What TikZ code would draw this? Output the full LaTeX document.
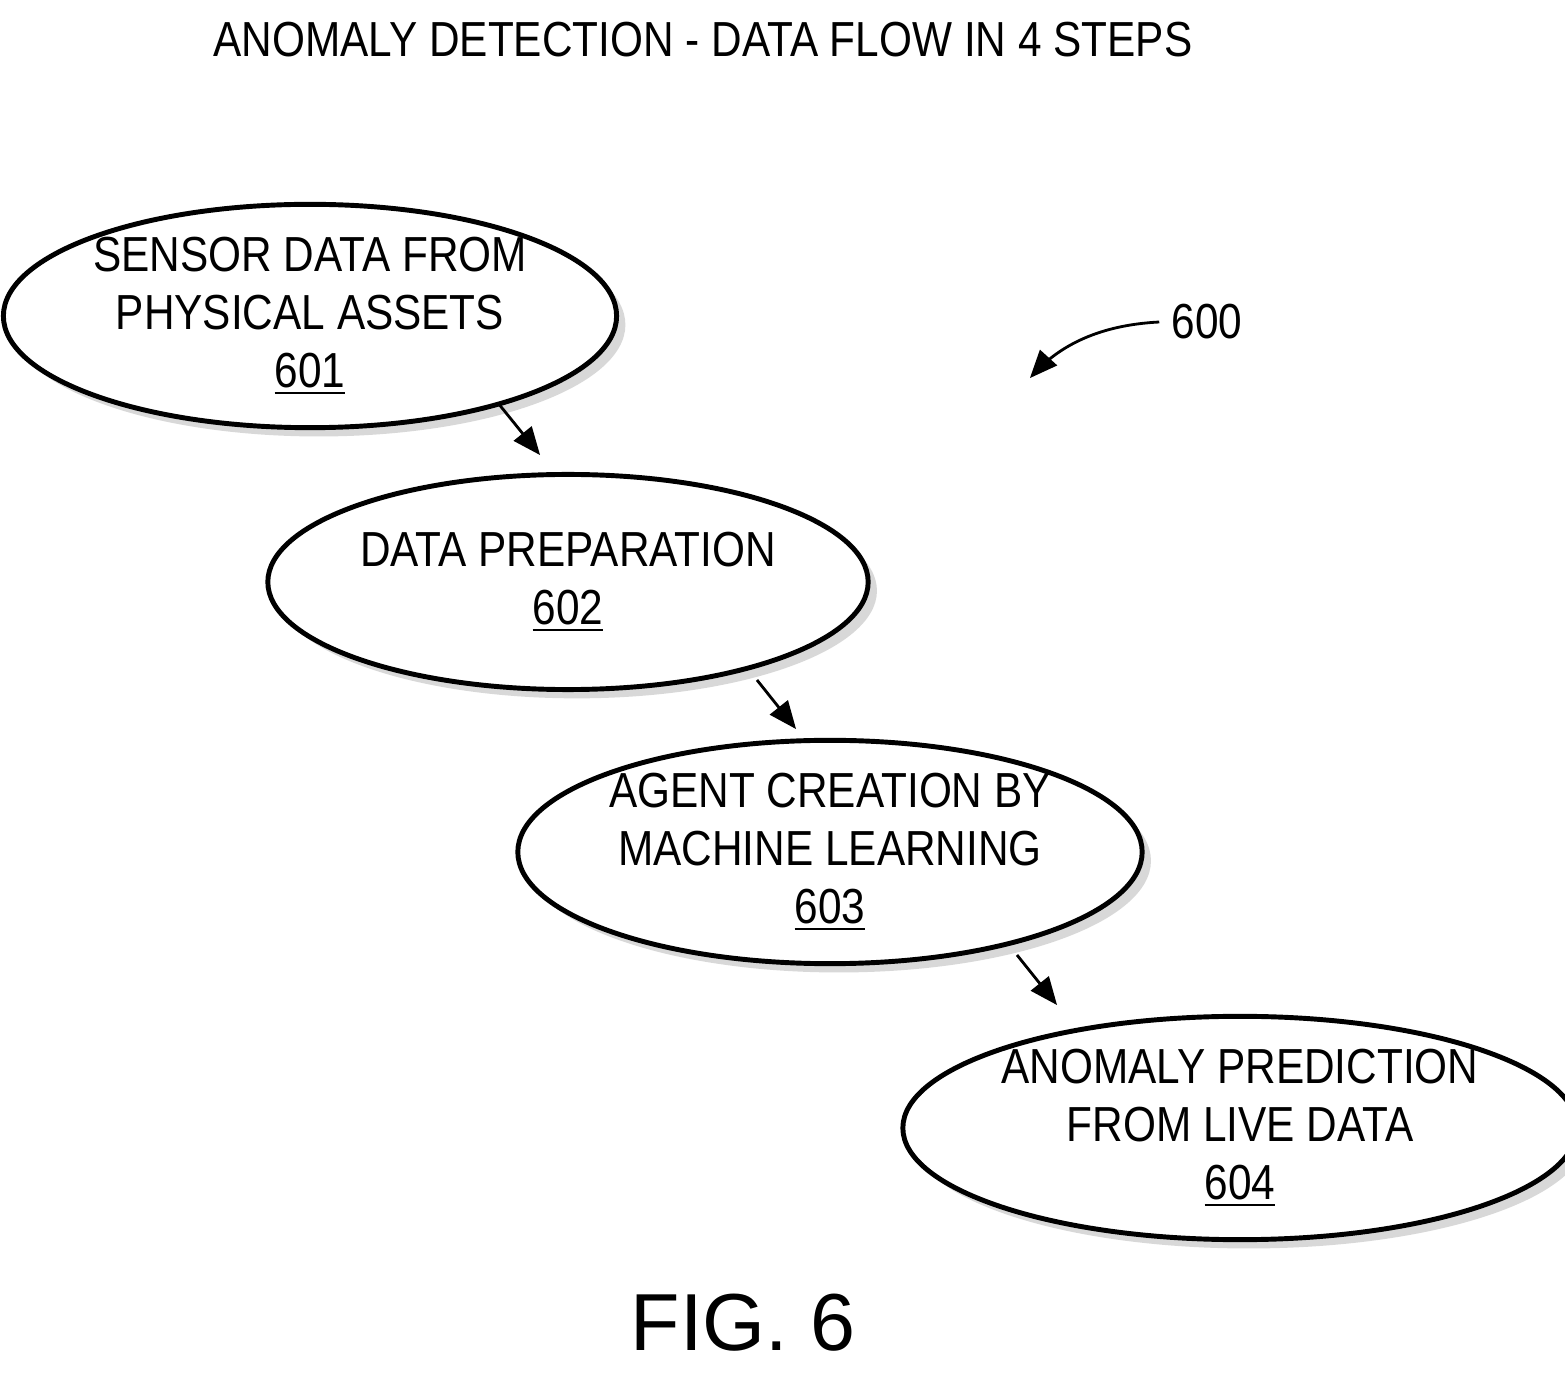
\documentclass[tikz,border=0pt]{standalone}
\usepackage{fontspec}
\setmainfont[FakeStretch=0.86]{Liberation Sans}
\newfontfamily\figfont{Liberation Sans}
\usepackage{tikz}
\usetikzlibrary{positioning}
\usetikzlibrary{arrows, shapes.geometric, shadows, calc}

\tikzset{
    flowstep/.style={ellipse, draw=black, line width=1.4pt, fill=white, minimum width=6cm, minimum height=2.15cm, inner sep=0pt, align=center, font=\fontsize{14}{16.5}\selectfont,
        drop shadow={shadow xshift=2.5pt, shadow yshift=-2.5pt, fill=gray!60}},
    flow/.style={-triangle 45, line width=0.8pt}
}

\begin{document}
\begin{tikzpicture}[x=0.01cm, y=-0.01cm]
        \useasboundingbox (0,0) rectangle (1565,1376);
        \node (title) at (703,40) {\fontsize{14}{16}\selectfont ANOMALY DETECTION - DATA FLOW IN 4 STEPS};

        \node[flowstep] (sensor) at (310,316) {SENSOR DATA FROM\\PHYSICAL ASSETS\\\underline{601}};
        \node[flowstep] (prep) at (568,582) {DATA PREPARATION\\\underline{602}};
        \node[flowstep] (agent) at (830,852) {AGENT CREATION BY\\MACHINE LEARNING\\\underline{603}};
        \node[flowstep] (anomaly) at (1240,1128) {ANOMALY PREDICTION\\FROM LIVE DATA\\\underline{604}};

        \coordinate (a1) at (498,403);
        \coordinate (b1) at (540,455);
        \coordinate (a2) at (757,680);
        \coordinate (b2) at (796,729);
        \coordinate (a3) at (1017,955);
        \coordinate (b3) at (1057,1005);
        \draw[flow] (a1) -- (b1);
        \draw[flow] (a2) -- (b2);
        \draw[flow] (a3) -- (b3);

        \node (ref) at (1207,322) {\fontsize{14}{16}\selectfont 600};
        \coordinate (reftip) at (1030,378);
        \draw[flow] (ref.west) .. controls (1100,325) and (1060,345) .. (reftip);

        \node (fig) at (743,1323) {\figfont\fontsize{23}{26}\selectfont FIG. 6};
    \end{tikzpicture}
\end{document}
